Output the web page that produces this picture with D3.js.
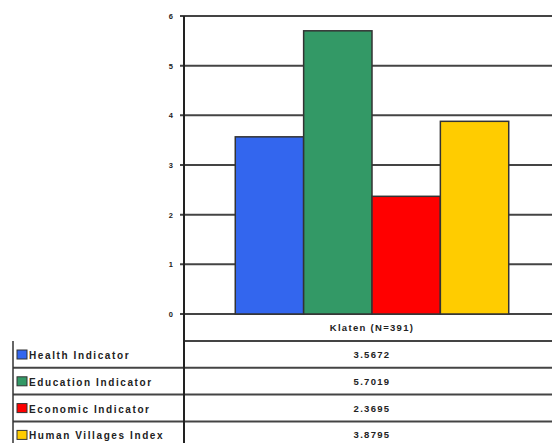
<!DOCTYPE html>
<html>
<head>
<meta charset="utf-8">
<script src="https://cdn.jsdelivr.net/npm/d3@7"></script>
<style>
  body { margin: 0; background: #fff; }
  text { font-family: "Liberation Sans", Arial, sans-serif; font-weight: bold; fill: #222; }
</style>
</head>
<body>
<div id="chart"></div>
<script>
const width = 552;
const height = 443;

// Data.
const categories = ["Klaten (N=391)"];
const seriesNames = ["Health Indicator", "Education Indicator", "Economic Indicator", "Human Villages Index"];
const seriesValues = [3.5672, 5.7019, 2.3695, 3.8795];
const seriesLabels = ["3.5672", "5.7019", "2.3695", "3.8795"];
const seriesColours = ["#3366ee", "#339966", "#ff0000", "#ffcc00"];
const yTicks = [0, 1, 2, 3, 4, 5, 6];

const plotLeft = 184, plotRight = 560, plotTop = 16, plotBottom = 314;
const tableLeft = 13, rowH = 26.8, tableTop = 341;

const svg = d3.select("#chart")
  .append("svg")
  .attr("width", width)
  .attr("height", height);

const y = d3.scaleLinear().domain([0, 6]).range([plotBottom, plotTop]);
const x = d3.scaleBand().domain(categories).range([plotLeft, plotRight]);
const xs = d3.scaleBand().domain(seriesNames).range([0, x.bandwidth()]).paddingOuter(0.75).paddingInner(0);

// gridlines
svg.append("g")
  .selectAll("line")
  .data(yTicks)
  .join("line")
  .attr("x1", plotLeft - 4)
  .attr("x2", plotRight)
  .attr("y1", d => y(d))
  .attr("y2", d => y(d))
  .attr("stroke", "#444")
  .attr("stroke-width", 2);

svg.append("g")
  .selectAll("text")
  .data(yTicks)
  .join("text")
  .attr("x", 173)
  .attr("y", d => y(d) + 3)
  .attr("text-anchor", "end")
  .attr("font-size", 7.5)
  .text(d => d);

// bars
svg.append("g")
  .selectAll("rect")
  .data(seriesValues)
  .join("rect")
  .attr("x", (d, i) => x(categories[0]) + xs(seriesNames[i]))
  .attr("width", xs.bandwidth())
  .attr("y", d => y(d))
  .attr("height", d => y(0) - y(d))
  .attr("fill", (d, i) => seriesColours[i])
  .attr("stroke", "#333")
  .attr("stroke-width", 1.5);

// data table
const rows = d3.range(seriesNames.length + 1);
svg.append("g")
  .selectAll("line")
  .data(rows)
  .join("line")
  .attr("x1", d => d === 0 ? plotLeft : tableLeft)
  .attr("x2", plotRight)
  .attr("y1", d => tableTop + d * rowH)
  .attr("y2", d => tableTop + d * rowH)
  .attr("stroke", "#444")
  .attr("stroke-width", 2);

svg.append("line")
  .attr("x1", tableLeft).attr("x2", tableLeft)
  .attr("y1", tableTop).attr("y2", height)
  .attr("stroke", "#333").attr("stroke-width", 1.5);

svg.append("line")
  .attr("x1", plotLeft).attr("x2", plotLeft)
  .attr("y1", plotTop).attr("y2", height)
  .attr("stroke", "#222").attr("stroke-width", 2);

svg.append("text")
  .attr("x", x(categories[0]) + x.bandwidth() / 2)
  .attr("y", plotBottom + 17)
  .attr("text-anchor", "middle")
  .attr("font-size", 9.5)
  .attr("letter-spacing", 1.3)
  .text(categories[0]);

const row = svg.append("g")
  .selectAll("g")
  .data(seriesNames)
  .join("g")
  .attr("transform", (d, i) => `translate(0,${tableTop + i * rowH})`);

row.append("rect")
  .attr("x", 17)
  .attr("y", 9)
  .attr("width", 10)
  .attr("height", 9)
  .attr("fill", (d, i) => seriesColours[i])
  .attr("stroke", "#333")
  .attr("stroke-width", 1);

row.append("text")
  .attr("x", 29)
  .attr("y", 18)
  .attr("font-size", 10)
  .attr("letter-spacing", 1.6)
  .text(d => d);

row.append("text")
  .attr("x", x(categories[0]) + x.bandwidth() / 2)
  .attr("y", 17)
  .attr("text-anchor", "middle")
  .attr("font-size", 9.5)
  .attr("letter-spacing", 1.3)
  .text((d, i) => seriesLabels[i]);
</script>
</body>
</html>
